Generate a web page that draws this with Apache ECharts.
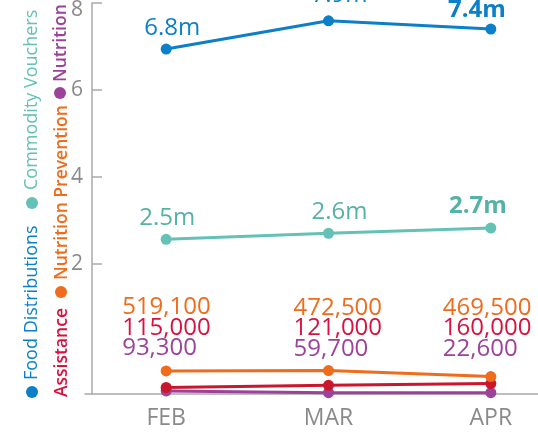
<!DOCTYPE html>
<html>
<head>
<meta charset="utf-8">
<script src="https://cdn.jsdelivr.net/npm/echarts@6/dist/echarts.min.js"></script>
<style>
  html, body { margin: 0; padding: 0; background: #fff; }
  #chart { width: 538px; height: 436px; }
</style>
</head>
<body>
<div id="chart"></div>
<script>
// data (positions), label texts as printed
const months = ['FEB', 'MAR', 'APR'];
const foodValues = [6.94, 7.59, 7.40];
const foodLabels = ['6.8m', '7.9m', '7.4m'];
const voucherValues = [2.56, 2.70, 2.82];
const voucherLabels = ['2.5m', '2.6m', '2.7m'];
// small programmes sit on their own (hidden) scale, 0 at the x axis
const preventionValues = [0.53, 0.54, 0.40];
const preventionLabels = ['519,100', '472,500', '469,500'];
const assistanceValues = [0.15, 0.20, 0.24];
const assistanceLabels = ['115,000', '121,000', '160,000'];
const nutritionValues = [0.07, 0.03, 0.03];
const nutritionLabels = ['93,300', '59,700', '22,600'];
const yTicks = [2, 4, 6, 8];

const FONT = '"Open Sans", "Noto Sans", sans-serif';
const C = {
  food: '#0b7fc8',
  voucher: '#63c1b6',
  voucherText: '#55b2a7',
  prevention: '#ee6c1b',
  assistance: '#c9172c',
  assistanceText: '#d8123f',
  nutrition: '#9d429a',
  axis: '#a9a9a9',
  axisText: '#8a8a8a'
};

const chart = echarts.init(document.getElementById('chart'));

// label offsets relative to each point
const foodOffsets = [[6, -21], [11, -26], [-14, -19]];
const voucherOffsets = [[1, -21], [11, -21], [-13, -22]];
const stackOffsets = [[-44, -43], [-35, -42], [-48, -48]];

function bigLabelData(values, labels, offsets, color) {
  return values.map((v, i) => ({
    value: v,
    label: {
      show: true,
      position: 'inside',
      offset: offsets[i],
      formatter: labels[i],
      color: color,
      fontFamily: FONT,
      fontSize: 24,
      fontWeight: i === values.length - 1 ? 'bold' : 'normal'
    }
  }));
}

function lineSeries(name, color, data, yAxisIndex, z) {
  return {
    name: name,
    type: 'line',
    yAxisIndex: yAxisIndex,
    data: data,
    symbol: 'circle',
    symbolSize: 11,
    clip: false,
    z: z,
    itemStyle: { color: color },
    lineStyle: { color: color, width: 3 },
    emphasis: { disabled: true },
    animation: false
  };
}

const stackData = preventionValues.map((v, i) => ({
  value: v,
  label: {
    show: true,
    position: 'inside',
    align: 'left',
    verticalAlign: 'middle',
    offset: stackOffsets[i],
    formatter: '{p|' + preventionLabels[i] + '}\n{a|' + assistanceLabels[i] + '}\n{n|' + nutritionLabels[i] + '}',
    rich: {
      p: { color: C.prevention, fontFamily: FONT, fontSize: 24, lineHeight: 20.5, align: 'left' },
      a: { color: C.assistanceText, fontFamily: FONT, fontSize: 24, lineHeight: 20.5, align: 'left' },
      n: { color: C.nutrition, fontFamily: FONT, fontSize: 24, lineHeight: 20.5, align: 'left' }
    }
  }
}));

// rotated legend pieces
function legendText(x, y, text, color, weight, size) {
  return {
    type: 'text',
    x: x, y: y,
    rotation: Math.PI / 2,
    style: {
      text: text,
      fill: color,
      font: weight + ' ' + size + 'px ' + FONT,
      textAlign: 'left',
      textVerticalAlign: 'middle'
    }
  };
}
function legendDot(x, y, color) {
  return { type: 'circle', shape: { cx: x, cy: y, r: 6 }, style: { fill: color } };
}

const option = {
  animation: false,
  grid: { left: 85, width: 487, top: 3, bottom: 42, containLabel: false, outerBoundsMode: 'none' },
  xAxis: {
    type: 'category',
    data: months,
    axisLine: { onZero: false, lineStyle: { color: C.axis, width: 1.5 } },
    axisTick: { inside: true, length: 6, lineStyle: { color: C.axis, width: 1.5 } },
    axisLabel: { color: C.axisText, fontFamily: FONT, fontSize: 23, margin: 13 }
  },
  yAxis: [
    {
      type: 'value',
      min: -1,
      max: 8,
      offset: -7,
      splitLine: { show: false },
      axisLine: { show: true, lineStyle: { color: C.axis, width: 1.5 } },
      axisTick: { show: true, inside: true, length: 10, customValues: yTicks, lineStyle: { color: C.axis, width: 1.5 } },
      axisLabel: {
        color: C.axisText,
        fontFamily: FONT,
        fontSize: 21,
        margin: 9,
        customValues: yTicks,
        formatter: v => (v === 8 ? '{t|8}' : String(v)),
        rich: { t: { color: C.axisText, fontFamily: FONT, fontSize: 21, padding: [14, 0, 0, 0] } }
      }
    },
    { type: 'value', min: 0, max: 9, show: false }
  ],
  series: [
    lineSeries('Nutrition', C.nutrition, nutritionValues, 1, 2),
    lineSeries('Assistance', C.assistance, assistanceValues, 1, 3),
    lineSeries('Nutrition Prevention', C.prevention, stackData, 1, 4),
    lineSeries('Commodity Vouchers', C.voucher, bigLabelData(voucherValues, voucherLabels, voucherOffsets, C.voucherText), 0, 5),
    lineSeries('Food Distributions', C.food, bigLabelData(foodValues, foodLabels, foodOffsets, C.food), 0, 6)
  ],
  graphic: [
    legendDot(32, 392, C.food),
    legendText(32, 380, 'Food Distributions', C.food, 'normal', 18),
    legendDot(32, 203, C.voucher),
    legendText(32, 190, 'Commodity Vouchers', C.voucher, 'normal', 18),
    legendText(62, 397, 'Assistance', C.assistanceText, '600', 17.5),
    legendDot(61, 292, C.prevention),
    legendText(62, 280, 'Nutrition Prevention', C.prevention, '600', 17.5),
    legendDot(60, 93, C.nutrition),
    legendText(61, 82, 'Nutrition', C.nutrition, '600', 17.5)
  ]
};

chart.setOption(option);
</script>
</body>
</html>
